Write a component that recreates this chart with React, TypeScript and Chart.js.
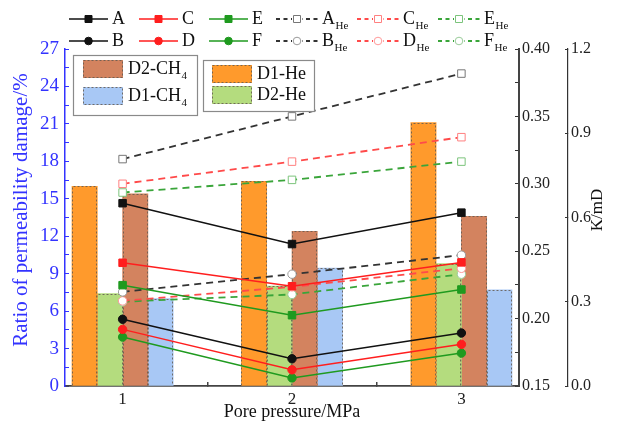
import { useEffect, useRef } from 'react';
import { Chart, registerables } from 'chart.js';
Chart.register(...registerables);

const FONT = "'Liberation Serif', 'Times New Roman', serif";

// categories (pore pressure, MPa)
const pressures = [1, 2, 3];

// bars: ratio of permeability damage (%)
const d1He = [16.0, 16.4, 21.1];
const d2He = [7.4, 8.0, 9.8];
const d2CH4 = [15.4, 12.4, 13.6];
const d1CH4 = [7.0, 9.45, 7.7];

// CH4 permeability lines (inner right axis)
const kA = [0.2856, 0.2553, 0.2786];
const kB = [0.1995, 0.1702, 0.1893];
const kC = [0.2414, 0.224, 0.2417];
const kD = [0.192, 0.162, 0.1809];
const kE = [0.2248, 0.2025, 0.2216];
const kF = [0.1863, 0.156, 0.1744];

// He permeability lines (outer right axis, K/mD)
const kAHe = [0.808, 0.96, 1.1125];
const kBHe = [0.335, 0.398, 0.466];
const kCHe = [0.72, 0.799, 0.886];
const kDHe = [0.303, 0.353, 0.419];
const kEHe = [0.689, 0.734, 0.799];
const kFHe = [0.3, 0.326, 0.398];

// tick labels
const xTickLabels = ['1', '2', '3'];
const leftTickLabels = ['0', '3', '6', '9', '12', '15', '18', '21', '24', '27'];
const innerTickLabels = ['0.15', '0.20', '0.25', '0.30', '0.35', '0.40'];
const outerTickLabels = ['0.0', '0.3', '0.6', '0.9', '1.2'];

// axis titles
const leftTitle = 'Ratio of permeability damage/%';
const xTitle = 'Pore pressure/MPa';
const rightTitle = 'K/mD';

const withMinor = (majors: number[]) => {
  const out: number[] = [];
  majors.forEach((v, i) => {
    out.push(v);
    if (i < majors.length - 1) out.push((v + majors[i + 1]) / 2);
  });
  return out;
};

const toXY = (arr: number[]) => arr.map((y, i) => ({ x: pressures[i], y }));

function barDs(label: string, data: number[], color: string) {
  return {
    type: 'bar' as const,
    label,
    data: toXY(data),
    backgroundColor: color,
    borderWidth: 0,
    barThickness: 25.3,
    yAxisID: 'y',
    order: 10,
  };
}

function lineDs(label: string, data: number[], color: string, style: string, dashed: boolean, markerBorder: string, axis: string) {
  const hollow = dashed;
  return {
    type: 'line' as const,
    label,
    data: toXY(data),
    borderColor: color,
    borderWidth: dashed ? 1.8 : 1.5,
    borderDash: dashed ? [7, 5] : [],
    pointStyle: style,
    pointRadius: style === 'rect' ? 5.3 : 4.2,
    pointBackgroundColor: hollow ? '#ffffff' : color,
    pointBorderColor: hollow ? markerBorder : color,
    pointBorderWidth: 1,
    fill: false,
    tension: 0,
    yAxisID: axis,
    order: 0,
    clip: false as const,
  };
}

function drawRich(ctx: CanvasRenderingContext2D, text: string, x: number, y: number, size: number) {
  const [main, sub] = text.split('_');
  ctx.font = `${size}px ${FONT}`;
  ctx.textBaseline = 'middle';
  ctx.textAlign = 'left';
  ctx.fillText(main, x, y);
  if (sub) {
    const w = ctx.measureText(main).width;
    ctx.font = `${Math.round(size * 0.62)}px ${FONT}`;
    ctx.fillText(sub, x + w + 0.5, y + size * 0.4);
  }
}

const legendPlugin = {
  id: 'customLegend',
  afterDatasetDraw(chart: any, args: any) {
    const ds = chart.data.datasets[args.index];
    if (ds.type !== 'bar') return;
    const ctx = chart.ctx;
    ctx.save();
    ctx.setLineDash([2, 2]);
    ctx.strokeStyle = 'rgba(100,90,80,0.85)';
    ctx.lineWidth = 1;
    args.meta.data.forEach((el: any) => {
      const { x, y, base, width } = el.getProps(['x', 'y', 'base', 'width'], true);
      const l = Math.round(x - width / 2) + 0.5;
      const r = Math.round(x + width / 2) - 0.5;
      const t = Math.round(y) + 0.5;
      ctx.beginPath();
      ctx.moveTo(l, base);
      ctx.lineTo(l, t);
      ctx.lineTo(r, t);
      ctx.lineTo(r, base);
      ctx.stroke();
    });
    ctx.restore();
  },
  afterDraw(chart: any) {
    const ctx: CanvasRenderingContext2D = chart.ctx;
    const datasets = chart.data.datasets;
    ctx.save();
    // line legend, two rows
    const lines = datasets.filter((d: any) => d.type === 'line');
    const textX = [112, 182, 252, 322, 403, 484];
    const rowY = [19, 41];
    lines.forEach((d: any, k: number) => {
      const tx = textX[Math.floor(k / 2)];
      const cy = rowY[k % 2];
      const dashed = d.borderDash.length > 0;
      const lineLen = dashed ? 42 : 39;
      const cx = tx - 4 - lineLen;
      ctx.save();
      ctx.strokeStyle = d.borderColor;
      ctx.lineWidth = d.borderWidth;
      ctx.setLineDash(dashed ? [4, 3.5] : []);
      ctx.beginPath();
      ctx.moveTo(cx, cy);
      ctx.lineTo(cx + lineLen, cy);
      ctx.stroke();
      ctx.setLineDash([]);
      const mx = cx + lineLen / 2;
      ctx.fillStyle = '#ffffff';
      if (dashed) ctx.fillRect(mx - 5, cy - 5, 10, 10);
      ctx.fillStyle = d.pointBackgroundColor;
      ctx.strokeStyle = d.pointBorderColor;
      ctx.lineWidth = 1;
      ctx.beginPath();
      if (d.pointStyle === 'rect') {
        ctx.rect(mx - 3.5, cy - 3.5, 7, 7);
      } else {
        ctx.arc(mx, cy, 3.8, 0, Math.PI * 2);
      }
      ctx.fill();
      ctx.stroke();
      ctx.restore();
      ctx.fillStyle = '#111';
      drawRich(ctx, d.label, tx, cy, 18);
    });

    // bar legend boxes
    const byLabel = (l: string) => datasets.find((d: any) => d.label === l);
    const boxes = [
      { rect: [73, 55, 124, 60], items: ['D2-CH_4', 'D1-CH_4'], y: [69, 96], sw: [60, 87] },
      { rect: [203, 60, 111, 51], items: ['D1-He', 'D2-He'], y: [74, 95], sw: [65, 86] },
    ];
    const swX = [83, 212];
    boxes.forEach((b, bi) => {
      const [bx, by, bw, bh] = b.rect;
      ctx.fillStyle = '#ffffff';
      ctx.fillRect(bx, by, bw, bh);
      ctx.strokeStyle = '#8a8a8a';
      ctx.lineWidth = 1.2;
      ctx.setLineDash([]);
      ctx.strokeRect(bx + 0.5, by + 0.5, bw, bh);
      b.items.forEach((lab, i) => {
        const d = byLabel(lab);
        const sx = swX[bi];
        const sy = b.sw[i];
        ctx.fillStyle = d.backgroundColor;
        ctx.fillRect(sx, sy, 40, 18);
        ctx.save();
        ctx.setLineDash([2, 2]);
        ctx.strokeStyle = 'rgba(100,90,80,0.85)';
        ctx.lineWidth = 1;
        ctx.strokeRect(sx + 0.5, sy + 0.5, 39, 17);
        ctx.restore();
        ctx.fillStyle = '#111';
        drawRich(ctx, lab, sx + 45, b.y[i], 18);
      });
    });

    // left axis title
    ctx.save();
    ctx.translate(21, 210);
    ctx.rotate(-Math.PI / 2);
    ctx.font = `21px ${FONT}`;
    ctx.fillStyle = '#3333ff';
    ctx.textAlign = 'center';
    ctx.textBaseline = 'middle';
    ctx.fillText(leftTitle, 0, 0);
    ctx.restore();

    // right axis title
    ctx.save();
    ctx.translate(598, 210);
    ctx.rotate(-Math.PI / 2);
    ctx.font = `17px ${FONT}`;
    ctx.fillStyle = '#111';
    ctx.textAlign = 'center';
    ctx.textBaseline = 'middle';
    ctx.fillText(rightTitle, 0, 0);
    ctx.restore();
    ctx.restore();
  },
};

export default function App() {
  const ref = useRef<HTMLCanvasElement>(null);
  useEffect(() => {
    if (!ref.current) return;
    const leftMajors = leftTickLabels.map(Number);
    const innerMajors = innerTickLabels.map(Number);
    const outerMajors = outerTickLabels.map(Number);
    const chart = new Chart(ref.current, {
      type: 'bar',
      data: {
        datasets: [
          barDs('D1-He', d1He, '#FF9A2C'),
          barDs('D2-He', d2He, '#B4DC7E'),
          barDs('D2-CH_4', d2CH4, '#D3835F'),
          barDs('D1-CH_4', d1CH4, '#A8C8F5'),
          lineDs('A', kA, '#111111', 'rect', false, '#111', 'y2'),
          lineDs('B', kB, '#111111', 'circle', false, '#111', 'y2'),
          lineDs('C', kC, '#FF1E1E', 'rect', false, '#f00', 'y2'),
          lineDs('D', kD, '#FF1E1E', 'circle', false, '#f00', 'y2'),
          lineDs('E', kE, '#1F9A1F', 'rect', false, '#1a1', 'y2'),
          lineDs('F', kF, '#1F9A1F', 'circle', false, '#1a1', 'y2'),
          lineDs('A_He', kAHe, '#333333', 'rect', true, '#777777', 'y3'),
          lineDs('B_He', kBHe, '#333333', 'circle', true, '#9a9a9a', 'y3'),
          lineDs('C_He', kCHe, '#FF4A4A', 'rect', true, '#FF8080', 'y3'),
          lineDs('D_He', kDHe, '#FF4A4A', 'circle', true, '#FF9a9a', 'y3'),
          lineDs('E_He', kEHe, '#3AA53A', 'rect', true, '#7CC47C', 'y3'),
          lineDs('F_He', kFHe, '#3AA53A', 'circle', true, '#9ACC9A', 'y3'),
        ] as any,
      },
      options: {
        responsive: false,
        animation: false,
        devicePixelRatio: 1,
        layout: { padding: { top: 49, left: 0, right: 0, bottom: 0 } },
        plugins: { legend: { display: false }, tooltip: { enabled: false } },
        scales: {
          x: {
            type: 'linear',
            min: 0.66,
            max: 3.34,
            offset: false,
            afterBuildTicks: (s: any) => {
              s.ticks = pressures.map((v) => ({ value: v }));
            },
            afterFit: (s: any) => {
              s.height = 37;
            },
            grid: { drawOnChartArea: false, tickLength: -4, color: '#444', lineWidth: 1.5 },
            border: { color: '#444', width: 1.8 },
            ticks: {
              autoSkip: false,
              maxRotation: 0,
              color: '#222',
              font: { family: FONT, size: 17 },
              padding: 7,
              callback: (v: any) => xTickLabels[pressures.indexOf(Number(v))] ?? '',
            },
            title: {
              display: true,
              text: xTitle,
              color: '#111',
              font: { family: FONT, size: 18 },
              padding: { top: 0, bottom: 0 },
            },
          },
          y: {
            position: 'left',
            min: 0,
            max: 27,
            afterBuildTicks: (s: any) => {
              s.ticks = withMinor(leftMajors).map((v) => ({ value: v }));
            },
            afterFit: (s: any) => {
              s.width = 65;
            },
            grid: { drawOnChartArea: false, tickLength: -4, color: '#3333ff', lineWidth: 1 },
            border: { color: '#3333ff', width: 1.5 },
            ticks: {
              autoSkip: false,
              color: '#3333ff',
              font: { family: FONT, size: 19 },
              padding: 10,
              callback: (v: any) => {
                const i = leftMajors.indexOf(Number(v));
                return i >= 0 ? leftTickLabels[i] : '';
              },
            },
            title: { display: false },
          },
          y2: {
            position: 'right',
            min: 0.15,
            max: 0.4,
            afterBuildTicks: (s: any) => {
              s.ticks = withMinor(innerMajors).map((v) => ({ value: v }));
            },
            afterFit: (s: any) => {
              s.width = 49;
            },
            grid: { drawOnChartArea: false, tickLength: -4, color: '#333', lineWidth: 1 },
            border: { color: '#444', width: 2 },
            ticks: {
              autoSkip: false,
              color: '#222',
              font: { family: FONT, size: 16 },
              padding: 7,
              callback: (v: any) => {
                const i = innerMajors.findIndex((m) => Math.abs(m - Number(v)) < 1e-6);
                return i >= 0 ? innerTickLabels[i] : '';
              },
            },
          },
          y3: {
            position: 'right',
            min: 0,
            max: 1.2,
            afterBuildTicks: (s: any) => {
              s.ticks = outerMajors.map((v) => ({ value: v }));
            },
            afterFit: (s: any) => {
              s.width = 49;
            },
            grid: { drawOnChartArea: false, tickLength: -3, color: '#333', lineWidth: 1 },
            border: { color: '#333', width: 1.2, dash: [5, 2, 1, 2] },
            ticks: {
              autoSkip: false,
              color: '#222',
              font: { family: FONT, size: 16 },
              padding: 6,
              callback: (v: any) => {
                const i = outerMajors.findIndex((m) => Math.abs(m - Number(v)) < 1e-6);
                return i >= 0 ? outerTickLabels[i] : '';
              },
            },
          },
        },
      } as any,
      plugins: [legendPlugin],
    });
    return () => chart.destroy();
  }, []);

  return (
    <div style={{ position: 'fixed', left: 0, top: 0, width: 617, height: 423, background: '#ffffff' }}>
      <canvas ref={ref} width={617} height={423} style={{ width: 617, height: 423, display: 'block' }} />
    </div>
  );
}
